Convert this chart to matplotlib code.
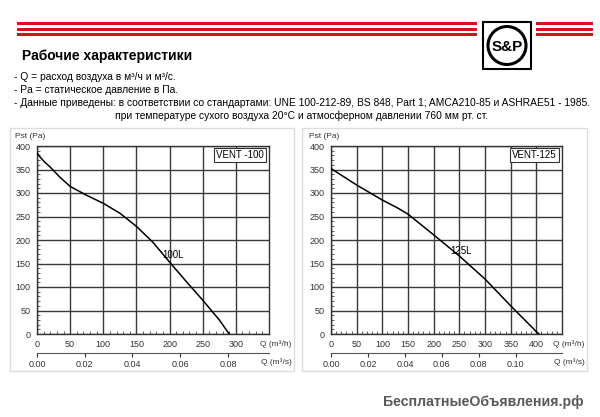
import numpy as np
import matplotlib.pyplot as plt
from matplotlib.patches import Rectangle, Circle
from matplotlib.ticker import MultipleLocator

plt.rcParams['font.family'] = ['Liberation Sans', 'DejaVu Sans']

# fan curves: Q (m3/h), Pst (Pa)
q_100 = [0, 5, 10, 20, 35, 50, 75, 100, 125, 150, 175, 200, 225, 250, 275, 290]
p_100 = [385, 376, 368, 355, 333, 314, 295, 278, 257, 229, 195, 153, 112, 72, 30, 0]
q_125 = [0, 50, 100, 130, 150, 200, 250, 300, 350, 400, 405]
p_125 = [352, 317, 285, 268, 255, 211, 166, 117, 60, 5, 0]

models = ['VENT -100', 'VENT-125']
curve_labels = ['100L', '125L']
label_pos = [(205, 168), (253, 177)]
xmax = [350, 450]
ms_ticks = [[0.00, 0.02, 0.04, 0.06, 0.08], [0.00, 0.02, 0.04, 0.06, 0.08, 0.10]]
h_ticks = [[0, 50, 100, 150, 200, 250, 300], [0, 50, 100, 150, 200, 250, 300, 350, 400]]

notes = [
    '- Q = расход воздуха в м³/ч и м³/с.',
    '- Pa = статическое давление в Па.',
    '- Данные приведены: в соответствии со стандартами: UNE 100-212-89, BS 848, Part 1; AMCA210-85 и ASHRAE51 - 1985.',
]
note_last = 'при температуре сухого воздуха 20°C и атмосферном давлении 760 мм рт. ст.'

W, H = 600, 417
fig = plt.figure(figsize=(W / 100, H / 100), dpi=100)

# background layer in pixel coordinates
bg = fig.add_axes([0, 0, 1, 1], zorder=-1)
bg.set_xlim(0, W)
bg.set_ylim(H, 0)
bg.axis('off')

red = '#d8101e'
for x0, x1 in [(17, 477), (536, 593)]:
    for y0, h in [(22, 3.2), (27.5, 3.2), (32.5, 3.8)]:
        bg.add_patch(Rectangle((x0, y0), x1 - x0, h, color=red, lw=0))
bg.add_patch(Rectangle((483, 22), 48, 47, fc='white', ec='black', lw=1.5))
bg.add_patch(Circle((507, 45.5), 19, fc='white', ec='black', lw=2.2))
bg.text(507, 46.5, 'S&P', ha='center', va='center', fontsize=11,
        fontweight='bold')

bg.text(22, 56, 'Рабочие характеристики', fontsize=10, fontweight='bold',
        va='center')
for i, line in enumerate(notes):
    bg.text(14, 77 + 13 * i, line, fontsize=7.35, va='center')
bg.text(302, 116, note_last, fontsize=7.35, va='center', ha='center')

bg.text(584, 402, 'БесплатныеОбъявления.рф', fontsize=10.2, color='#5a5a5a',
        ha='right', va='center', fontweight='bold')

panels = [(10, 294), (302, 587)]
for x0, x1 in panels:
    bg.add_patch(Rectangle((x0, 128), x1 - x0, 243, fc='none', ec='#dddddd', lw=1))

curves = [(q_100, p_100), (q_125, p_125)]
axes_px = [(37, 269), (331, 562)]
for i in range(2):
    x0, x1 = axes_px[i]
    ax = fig.add_axes([x0 / W, 1 - 334 / H, (x1 - x0) / W, 188 / H])
    q, p = curves[i]
    ax.plot(q, p, color='black', lw=1.1, zorder=3)
    ax.set_xlim(0, xmax[i])
    ax.set_ylim(0, 400)
    ax.set_xticks(h_ticks[i])
    ax.set_yticks(range(0, 401, 50))
    ax.xaxis.set_minor_locator(MultipleLocator(10))
    ax.yaxis.set_minor_locator(MultipleLocator(10))
    ax.grid(True, which='major', color='#3a3a3a', lw=1)
    ax.tick_params(which='major', length=0, labelsize=6.5, pad=4.5, colors='#333333')
    ax.tick_params(which='minor', length=2, direction='in', color='#444444')
    for s in ax.spines.values():
        s.set_color('#333333')
        s.set_linewidth(1)

    ax.annotate(models[i], xy=(1, 1), xycoords='axes fraction',
                xytext=(-5, -4), textcoords='offset pixels', ha='right', va='top',
                fontsize=7, bbox=dict(boxstyle='square,pad=0.2', fc='white',
                                      ec='#333333', lw=0.8), zorder=5)
    lx, ly = label_pos[i]
    ax.text(lx, ly, curve_labels[i], fontsize=7, ha='center', va='center')

    ax.annotate('Pst (Pa)', xy=(0, 1), xycoords='axes fraction',
                xytext=(-22, 10), textcoords='offset pixels', fontsize=6,
                va='center', color='#333333')
    ax.annotate('Q (m³/h)', xy=(1, 0), xycoords='axes fraction',
                xytext=(7, -10), textcoords='offset pixels', fontsize=6,
                va='center', ha='center', color='#333333')
    ax.annotate('Q (m³/s)', xy=(1, 0), xycoords='axes fraction',
                xytext=(7, -28), textcoords='offset pixels', fontsize=6,
                va='center', ha='center', color='#333333')

    sec = ax.secondary_xaxis(-19 / 188, functions=(lambda v: v / 3600, lambda v: v * 3600))
    sec.set_xticks(ms_ticks[i])
    sec.set_xticklabels(['%.2f' % t for t in ms_ticks[i]])
    sec.tick_params(length=3, direction='out', labelsize=6.5, pad=2, colors='#333333')
    sec.spines['bottom'].set_color('#555555')

fig.savefig('out.png', dpi=100)
